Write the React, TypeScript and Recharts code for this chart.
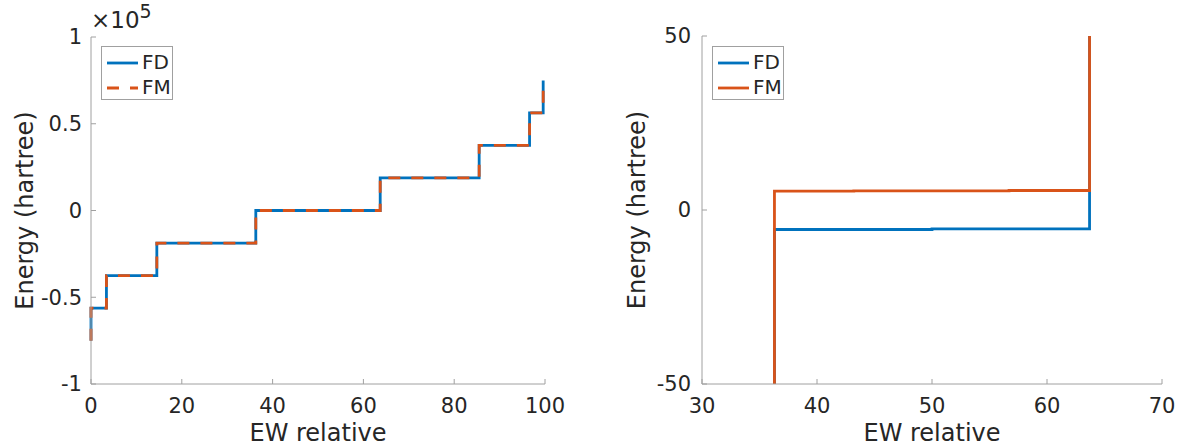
import React from 'react';
import { LineChart, Line, XAxis, YAxis, Label } from 'recharts';

// step data: x = EW relative, y = energy (hartree)
const fdX = [0, 0, 3.4, 14.5, 36.3, 50, 63.7, 85.5, 96.6, 99.6];
const fdY = [-75000, -56250, -37500, -18750, -5.6, -5.45, 18750, 37500, 56250, 75000];
const fmX = [0, 0, 3.4, 14.5, 36.3, 43.2, 56.7, 63.7, 85.5, 96.6, 99.6];
const fmY = [-75000, -56250, -37500, -18750, 5.4, 5.5, 5.6, 18750, 37500, 56250, 75000];

const leftXTicks = [0, 20, 40, 60, 80, 100];
const leftYTicks = [-100000, -50000, 0, 50000, 100000];
const rightXTicks = [30, 40, 50, 60, 70];
const rightYTicks = [-50, 0, 50];

const seriesNames = ['FD', 'FM'];
const BLUE = '#0072BD';
const ORANGE = '#D95319';
const TEXT = '#262626';
const AXIS = '#a0a0a0';
const FONT = '"DejaVu Sans", sans-serif';

const fdData = fdX.map((x, i) => ({ x, y: fdY[i] }));
const fmData = fmX.map((x, i) => ({ x, y: fmY[i] }));

const tickStyle = { fontSize: 21, fill: TEXT, fontFamily: FONT };

const yLabel = (baseX: number) => (props: any) => {
  const vb = props.viewBox;
  const cy = vb.y + vb.height / 2;
  return (
    <text x={baseX} y={cy} transform={`rotate(-90 ${baseX} ${cy})`} textAnchor="middle"
      fontSize={24} fill={TEXT} fontFamily={FONT}>
      Energy (hartree)
    </text>
  );
};

const xLabel = (props: any) => {
  const vb = props.viewBox;
  return (
    <text x={vb.x + vb.width / 2} y={441} textAnchor="middle" fontSize={24} fill={TEXT} fontFamily={FONT}>
      EW relative
    </text>
  );
};

const LegendBox = ({ left, dashed }: { left: number; dashed: boolean }) => (
  <div style={{
    position: 'absolute', left, top: 46, width: 72, height: 54, boxSizing: 'border-box',
    border: `1px solid ${AXIS}`, background: '#fff',
  }}>
    {seriesNames.map((name, i) => (
      <div key={name} style={{ position: 'absolute', left: 5, top: 3 + i * 25, height: 25, display: 'flex', alignItems: 'center' }}>
        <svg width={31} height={6} style={{ display: 'block' }}>
          <line x1={0} y1={3} x2={31} y2={3} stroke={i === 0 ? BLUE : ORANGE} strokeWidth={2.8}
            strokeDasharray={dashed && i === 1 ? '12 11' : undefined} />
        </svg>
        <span style={{ marginLeft: 4, fontSize: 20, color: TEXT, fontFamily: FONT, lineHeight: '25px' }}>{name}</span>
      </div>
    ))}
  </div>
);

export default function App() {
  const commonLine = { dot: false, activeDot: false, isAnimationActive: false, type: 'stepAfter' as const, dataKey: 'y', strokeWidth: 2.8 };
  return (
    <div style={{ position: 'absolute', left: 0, top: 0, width: 1183, height: 446, background: '#fff', fontFamily: FONT }}>
      {/* left panel */}
      <div style={{ position: 'absolute', left: 0, top: 0 }}>
        <LineChart width={600} height={446} margin={{ top: 37, right: 55, bottom: 0, left: 0 }}>
          <XAxis type="number" dataKey="x" domain={[0, 100]} ticks={leftXTicks} interval={0} height={62}
            stroke={AXIS} tickSize={-5} tickMargin={19} tick={tickStyle}>
            <Label content={xLabel} />
          </XAxis>
          <XAxis xAxisId="top" orientation="top" type="number" dataKey="x" domain={[0, 100]} ticks={leftXTicks}
            interval={0} height={0} stroke={AXIS} tickSize={-5} tick={false} />
          <YAxis type="number" domain={[-100000, 100000]} ticks={leftYTicks} interval={0} width={91}
            stroke={AXIS} tickSize={-5} tickMargin={14} tick={tickStyle}
            tickFormatter={(v: number) => String(v / 100000)}>
            <Label content={yLabel(33)} />
          </YAxis>
          <YAxis yAxisId="right" orientation="right" type="number" domain={[-100000, 100000]} ticks={leftYTicks}
            interval={0} width={0} stroke={AXIS} tickSize={-5} tick={false} />
          <Line {...commonLine} data={fdData} stroke={BLUE} name="FD" />
          <Line {...commonLine} data={fmData} stroke={ORANGE} strokeDasharray="12 11" name="FM" />
        </LineChart>
      </div>
      {/* exponent label */}
      <div style={{ position: 'absolute', left: 91, top: 9, fontFamily: FONT, color: TEXT, whiteSpace: 'nowrap', lineHeight: 1 }}>
        <span style={{ fontSize: 23 }}>×10</span>
        <span style={{ fontSize: 19, position: 'relative', top: -10 }}>5</span>
      </div>
      <LegendBox left={101} dashed={true} />

      {/* right panel */}
      <div style={{ position: 'absolute', left: 600, top: 0 }}>
        <LineChart width={583} height={446} margin={{ top: 36, right: 21, bottom: 0, left: 0 }}>
          <XAxis type="number" dataKey="x" domain={[30, 70]} ticks={rightXTicks} interval={0} height={62}
            stroke={AXIS} tickSize={-5} tickMargin={19} tick={tickStyle} allowDataOverflow>
            <Label content={xLabel} />
          </XAxis>
          <XAxis xAxisId="top" orientation="top" type="number" dataKey="x" domain={[30, 70]} ticks={rightXTicks}
            interval={0} height={0} stroke={AXIS} tickSize={-5} tick={false} allowDataOverflow />
          <YAxis type="number" domain={[-50, 50]} ticks={rightYTicks} interval={0} width={102}
            stroke={AXIS} tickSize={-5} tickMargin={16} tick={tickStyle} allowDataOverflow>
            <Label content={yLabel(45)} />
          </YAxis>
          <YAxis yAxisId="right" orientation="right" type="number" domain={[-50, 50]} ticks={rightYTicks}
            interval={0} width={0} stroke={AXIS} tickSize={-5} tick={false} allowDataOverflow />
          <Line {...commonLine} data={fdData} stroke={BLUE} name="FD" />
          <Line {...commonLine} data={fmData} stroke={ORANGE} name="FM" />
        </LineChart>
      </div>
      <LegendBox left={712} dashed={false} />
    </div>
  );
}
